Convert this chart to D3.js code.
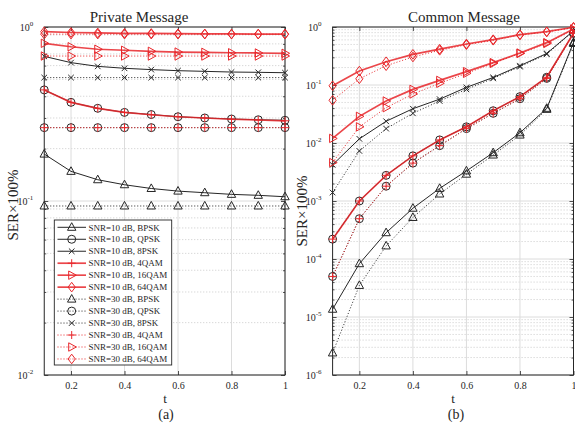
<!DOCTYPE html>
<html>
<head>
<meta charset="utf-8">
<script src="https://cdn.jsdelivr.net/npm/d3@7/dist/d3.min.js"></script>
<style>
body{margin:0;background:#fff;}
text{font-family:"Liberation Serif","Times New Roman",serif;fill:#262626;}
</style>
</head>
<body>
<svg id="chart" width="575" height="423"></svg>
<script>
// t values on x axis
var tVals = [0.1, 0.2, 0.3, 0.4, 0.5, 0.6, 0.7, 0.8, 0.9, 1.0];
var modNames = ['BPSK', 'QPSK', '8PSK', '4QAM', '16QAM', '64QAM'];
var snrList = [10, 30];
var xTicks = [0.2, 0.4, 0.6, 0.8, 1];

// (a) private message SER
var priv10BPSK  = [0.186, 0.148, 0.1325, 0.124, 0.118, 0.114, 0.1116, 0.1092, 0.1078, 0.1058];
var priv10QPSK  = [0.435, 0.369, 0.341, 0.323, 0.314, 0.305, 0.300, 0.296, 0.293, 0.291];
var priv10PSK8  = [0.678, 0.624, 0.594, 0.579, 0.569, 0.561, 0.556, 0.551, 0.549, 0.546];
var priv10QAM4  = [0.435, 0.369, 0.341, 0.323, 0.313, 0.305, 0.300, 0.295, 0.292, 0.289];
var priv10QAM16 = [0.806, 0.770, 0.745, 0.735, 0.725, 0.718, 0.715, 0.711, 0.709, 0.706];
var priv10QAM64 = [0.94, 0.93, 0.925, 0.92, 0.918, 0.915, 0.913, 0.912, 0.911, 0.91];
var priv30BPSK  = [0.0936, 0.0936, 0.0936, 0.0936, 0.0936, 0.0936, 0.0936, 0.0936, 0.0936, 0.0936];
var priv30QPSK  = [0.264, 0.264, 0.264, 0.264, 0.264, 0.264, 0.264, 0.264, 0.264, 0.264];
var priv30PSK8  = [0.512, 0.512, 0.512, 0.512, 0.512, 0.512, 0.512, 0.512, 0.512, 0.512];
var priv30QAM4  = [0.264, 0.264, 0.264, 0.264, 0.264, 0.264, 0.264, 0.264, 0.264, 0.264];
var priv30QAM16 = [0.681, 0.681, 0.681, 0.681, 0.681, 0.681, 0.681, 0.681, 0.681, 0.681];
var priv30QAM64 = [0.91, 0.91, 0.91, 0.91, 0.91, 0.91, 0.91, 0.91, 0.91, 0.91];

// (b) common message SER
var com10BPSK  = [1.36e-5, 8.3e-5, 2.84e-4, 7.5e-4, 1.65e-3, 3.3e-3, 6.8e-3, 0.015, 0.0396, 0.54];
var com10QPSK  = [2.2e-4, 1.0e-3, 2.77e-3, 6.0e-3, 0.0113, 0.019, 0.036, 0.063, 0.136, 0.78];
var com10PSK8  = [0.0042, 0.0118, 0.0237, 0.039, 0.057, 0.091, 0.135, 0.215, 0.35, 0.86];
var com10QAM4  = [2.2e-4, 1.0e-3, 2.77e-3, 6.0e-3, 0.0113, 0.019, 0.036, 0.063, 0.136, 0.78];
var com10QAM16 = [0.012, 0.0288, 0.053, 0.084, 0.12, 0.17, 0.243, 0.356, 0.537, 0.92];
var com10QAM64 = [0.097, 0.174, 0.252, 0.338, 0.415, 0.509, 0.605, 0.737, 0.83, 0.99];
var com30BPSK  = [2.4e-6, 3.5e-5, 1.68e-4, 5.2e-4, 1.32e-3, 2.9e-3, 6.2e-3, 0.0137, 0.038, 0.52];
var com30QPSK  = [5.0e-5, 4.95e-4, 1.8e-3, 4.5e-3, 9.0e-3, 0.0177, 0.0325, 0.058, 0.13, 0.78];
var com30PSK8  = [0.0014, 0.0073, 0.0177, 0.0325, 0.053, 0.084, 0.13, 0.207, 0.34, 0.85];
var com30QAM4  = [5.0e-5, 4.95e-4, 1.8e-3, 4.5e-3, 9.0e-3, 0.0177, 0.0325, 0.058, 0.13, 0.78];
var com30QAM16 = [0.0046, 0.019, 0.0406, 0.07, 0.107, 0.159, 0.236, 0.35, 0.52, 0.91];
var com30QAM64 = [0.0545, 0.128, 0.215, 0.304, 0.396, 0.495, 0.59, 0.73, 0.82, 0.98];

var black = '#262626';
var red = '#e8262a';
var markerOf = ['tri', 'circle', 'x', 'plus', 'rtri', 'diamond'];

function markerPath(m){
    if (m == 'tri') return 'M0,-4.6L4.2,3L-4.2,3Z';
    if (m == 'rtri') return 'M4.6,0L-3,-4.2L-3,4.2Z';
    if (m == 'diamond') return 'M0,-4.8L3.6,0L0,4.8L-3.6,0Z';
    if (m == 'x') return 'M-2.8,-2.8L2.8,2.8M-2.8,2.8L2.8,-2.8';
    if (m == 'plus') return 'M-4,0L4,0M0,-4L0,4';
    return d3.symbol().type(d3.symbolCircle).size(50)();
}

function makeSeries(set10, set30){
    var out = [];
    snrList.forEach(function(snr, si){
        var set = si == 0 ? set10 : set30;
        modNames.forEach(function(m, mi){
            out.push({
                label: 'SNR=' + snr + ' dB, ' + m,
                values: set[mi],
                color: mi < 3 ? black : red,
                marker: markerOf[mi],
                dotted: snr == 30,
                thick: snr == 10 && mi >= 3
            });
        });
    });
    return out;
}

var privSeries = makeSeries(
    [priv10BPSK, priv10QPSK, priv10PSK8, priv10QAM4, priv10QAM16, priv10QAM64],
    [priv30BPSK, priv30QPSK, priv30PSK8, priv30QAM4, priv30QAM16, priv30QAM64]);
var comSeries = makeSeries(
    [com10BPSK, com10QPSK, com10PSK8, com10QAM4, com10QAM16, com10QAM64],
    [com30BPSK, com30QPSK, com30PSK8, com30QAM4, com30QAM16, com30QAM64]);

var svg = d3.select('#chart');

function styleLine(sel, s){
    sel.attr('fill', 'none')
        .attr('stroke', s.color)
        .attr('stroke-width', s.thick ? 1.7 : 1)
        .attr('stroke-opacity', s.thick ? 0.85 : 1)
        .attr('stroke-dasharray', s.dotted ? '1,2' : null);
}

function drawPanel(p){
    var x = d3.scaleLinear().domain([0.1, 1]).range([p.left, p.right]);
    var y = d3.scaleLog().domain([p.ymin, 1]).range([p.bottom, p.top]);
    var g = svg.append('g');

    var decades = [];
    var minors = [];
    for (var e = Math.round(Math.log10(p.ymin)); e <= 0; e++){
        decades.push(Math.pow(10, e));
        if (e < 0){
            for (var k = 2; k <= 9; k++) minors.push(k * Math.pow(10, e));
        }
    }

    // grid
    g.append('g').selectAll('line').data(minors).join('line')
        .attr('x1', p.left).attr('x2', p.right)
        .attr('y1', d => y(d)).attr('y2', d => y(d))
        .attr('stroke', '#b5b5b5').attr('stroke-width', 0.7).attr('stroke-dasharray', '1,2');
    g.append('g').selectAll('line').data(decades).join('line')
        .attr('x1', p.left).attr('x2', p.right)
        .attr('y1', d => y(d)).attr('y2', d => y(d))
        .attr('stroke', '#dcdcdc').attr('stroke-width', 1);
    g.append('g').selectAll('line').data(xTicks).join('line')
        .attr('x1', d => x(d)).attr('x2', d => x(d))
        .attr('y1', p.top).attr('y2', p.bottom)
        .attr('stroke', '#dcdcdc').attr('stroke-width', 1);

    // axes (ticks inside)
    var xa = g.append('g').attr('transform', 'translate(0,' + p.bottom + ')')
        .call(d3.axisBottom(x).tickValues(xTicks).tickSizeInner(-4).tickSizeOuter(0).tickPadding(7).tickFormat(d3.format('')));
    xa.selectAll('text').attr('font-family', '"Liberation Serif",serif').attr('font-size', 10).attr('fill', '#262626');
    g.append('g').attr('transform', 'translate(0,' + p.top + ')')
        .call(d3.axisTop(x).tickValues(xTicks).tickSizeInner(-4).tickSizeOuter(0).tickFormat(''));
    var ya = g.append('g').attr('transform', 'translate(' + p.left + ',0)')
        .call(d3.axisLeft(y).tickValues(decades).tickSizeInner(-4).tickSizeOuter(0).tickPadding(5));
    ya.selectAll('.tick text').each(function(d){
        var t = d3.select(this);
        t.text('10').attr('font-family', '"Liberation Serif",serif').attr('font-size', 10).attr('fill', '#262626').attr('dx', -6);
        t.append('tspan').attr('dy', -5).attr('font-size', 7).text(Math.round(Math.log10(d)));
    });
    g.append('g').attr('transform', 'translate(' + p.left + ',0)')
        .call(d3.axisLeft(y).tickValues(minors).tickSizeInner(-2).tickSizeOuter(0).tickFormat(''));
    g.append('g').attr('transform', 'translate(' + p.right + ',0)')
        .call(d3.axisRight(y).tickValues(decades).tickSizeInner(-4).tickSizeOuter(0).tickFormat(''));
    g.append('g').attr('transform', 'translate(' + p.right + ',0)')
        .call(d3.axisRight(y).tickValues(minors).tickSizeInner(-2).tickSizeOuter(0).tickFormat(''));
    g.selectAll('.domain').remove();
    g.selectAll('.tick line').attr('stroke', '#262626').attr('stroke-width', 0.8);

    g.append('rect')
        .attr('x', p.left).attr('y', p.top)
        .attr('width', p.right - p.left).attr('height', p.bottom - p.top)
        .attr('fill', 'none').attr('stroke', '#262626').attr('stroke-width', 1);

    // series: black first, then red on top
    var line = d3.line().x((d, i) => x(tVals[i])).y(d => y(d));
    var order = p.series.filter(s => s.color == black).concat(p.series.filter(s => s.color == red));
    order.forEach(function(s){
        g.append('path').datum(s.values).attr('d', line).call(styleLine, s);
        g.append('g').selectAll('path').data(s.values).join('path')
            .attr('transform', (d, i) => 'translate(' + x(tVals[i]) + ',' + y(d) + ')')
            .attr('d', markerPath(s.marker))
            .attr('fill', 'none')
            .attr('stroke', s.color)
            .attr('stroke-width', 1);
    });

    // labels
    g.append('text').attr('x', p.titleX).attr('y', 22).attr('text-anchor', 'middle')
        .attr('font-size', 15).text(p.title);
    g.append('text').attr('transform', 'translate(' + p.ylabX + ',' + p.ylabY + ') rotate(-90)')
        .attr('text-anchor', 'middle').attr('font-size', 15).text('SER×100%');
    g.append('text').attr('x', p.tX).attr('y', 403).attr('text-anchor', 'middle')
        .attr('font-size', 13).text('t');
    g.append('text').attr('x', p.capX).attr('y', 419).attr('text-anchor', 'middle')
        .attr('font-size', 14).text(p.caption);

    return g;
}

drawPanel({left: 44.25, right: 285, top: 27, bottom: 375, ymin: 1e-2, series: privSeries,
    title: 'Private Message', titleX: 139, ylabX: 18, ylabY: 205, tX: 165, capX: 166, caption: '(a)'});
drawPanel({left: 332.6, right: 573.5, top: 27, bottom: 375, ymin: 1e-6, series: comSeries,
    title: 'Common Message', titleX: 464, ylabX: 307, ylabY: 211, tX: 453, capX: 456, caption: '(b)'});

// legend
var leg = svg.append('g');
leg.append('rect').attr('x', 54.3).attr('y', 220).attr('width', 117.4).attr('height', 145)
    .attr('fill', '#fff').attr('stroke', '#262626').attr('stroke-width', 0.9);
privSeries.forEach(function(s, i){
    var ly = 227.3 + i * 11.97;
    var row = leg.append('g');
    row.append('line').attr('x1', 57.5).attr('x2', 86).attr('y1', ly).attr('y2', ly).call(styleLine, s);
    row.append('path').attr('transform', 'translate(71.7,' + ly + ')')
        .attr('d', markerPath(s.marker)).attr('fill', 'none').attr('stroke', s.color).attr('stroke-width', 1);
    row.append('text').attr('x', 88.5).attr('y', ly + 3.2).attr('font-size', 9).text(s.label);
});
</script>
</body>
</html>
